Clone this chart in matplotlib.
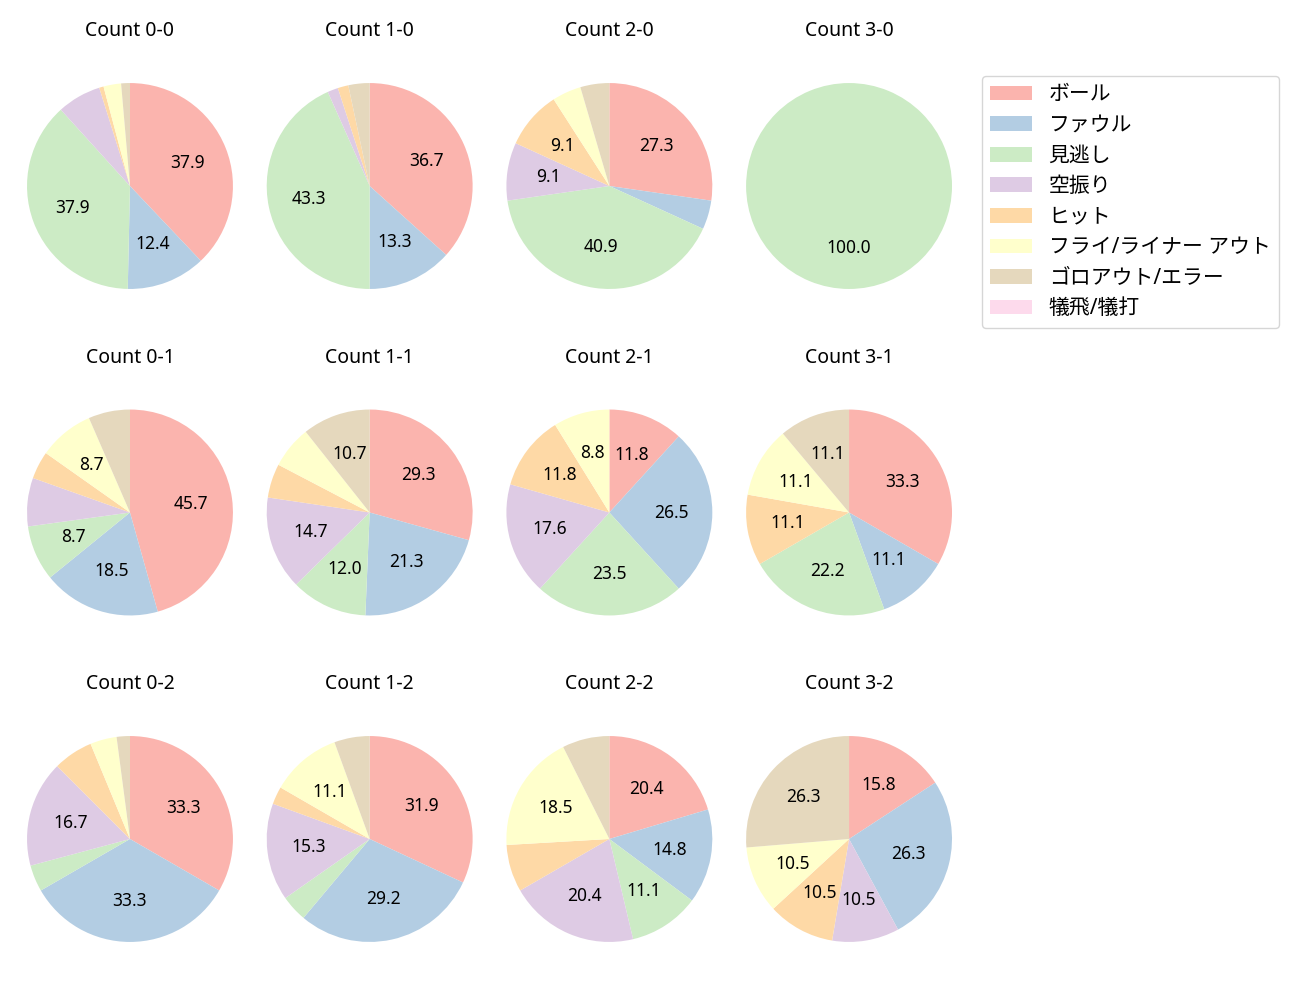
import matplotlib
matplotlib.use('Agg')
import matplotlib.pyplot as plt

plt.rcParams['font.family'] = ['Noto Sans', 'Noto Sans CJK JP', 'DejaVu Sans']

categories = ['ボール', 'ファウル', '見逃し', '空振り', 'ヒット',
              'フライ/ライナー アウト', 'ゴロアウト/エラー', '犠飛/犠打']

# pitch outcome counts per ball-strike count (order follows categories)
c00 = [55, 18, 55, 10, 1, 4, 2, 0]
c10 = [22, 8, 26, 1, 1, 0, 2, 0]
c20 = [6, 1, 9, 2, 2, 1, 1, 0]
c30 = [0, 0, 2, 0, 0, 0, 0, 0]
c01 = [42, 17, 8, 7, 4, 8, 6, 0]
c11 = [22, 16, 9, 11, 4, 5, 8, 0]
c21 = [4, 9, 8, 6, 4, 3, 0, 0]
c31 = [3, 1, 2, 0, 1, 1, 1, 0]
c02 = [16, 16, 2, 8, 3, 2, 1, 0]
c12 = [23, 21, 3, 11, 2, 8, 4, 0]
c22 = [11, 8, 6, 11, 4, 10, 4, 0]
c32 = [3, 5, 0, 2, 2, 2, 5, 0]

grid = [[('0-0', c00), ('1-0', c10), ('2-0', c20), ('3-0', c30)],
        [('0-1', c01), ('1-1', c11), ('2-1', c21), ('3-1', c31)],
        [('0-2', c02), ('1-2', c12), ('2-2', c22), ('3-2', c32)]]

colors = plt.get_cmap('Pastel1').colors[:8]

fig, axes = plt.subplots(3, 4, figsize=(13, 10))
fig.subplots_adjust(left=0.0078, right=0.7453, top=0.954, bottom=0.021,
                    wspace=0, hspace=0.166)

wedges = None
for r, row in enumerate(grid):
    for c, (name, vals) in enumerate(row):
        ax = axes[r, c]
        w, _, _ = ax.pie(vals, colors=colors, startangle=90, counterclock=False,
                         autopct=lambda p: f'{p:.1f}' if p >= 8 else '',
                         pctdistance=0.6, textprops={'fontsize': 12.5})
        ax.set_xlim(-1.164, 1.164)
        ax.set_ylim(-1.359, 1.359)
        ax.set_title(f'Count {name}', fontsize=14, pad=7)
        if wedges is None:
            wedges = w

fig.legend(wedges, categories, loc='upper left', bbox_to_anchor=(0.7554, 0.924),
           borderaxespad=0, fontsize=15, labelspacing=0.46)

fig.savefig('out.png', dpi=100)
